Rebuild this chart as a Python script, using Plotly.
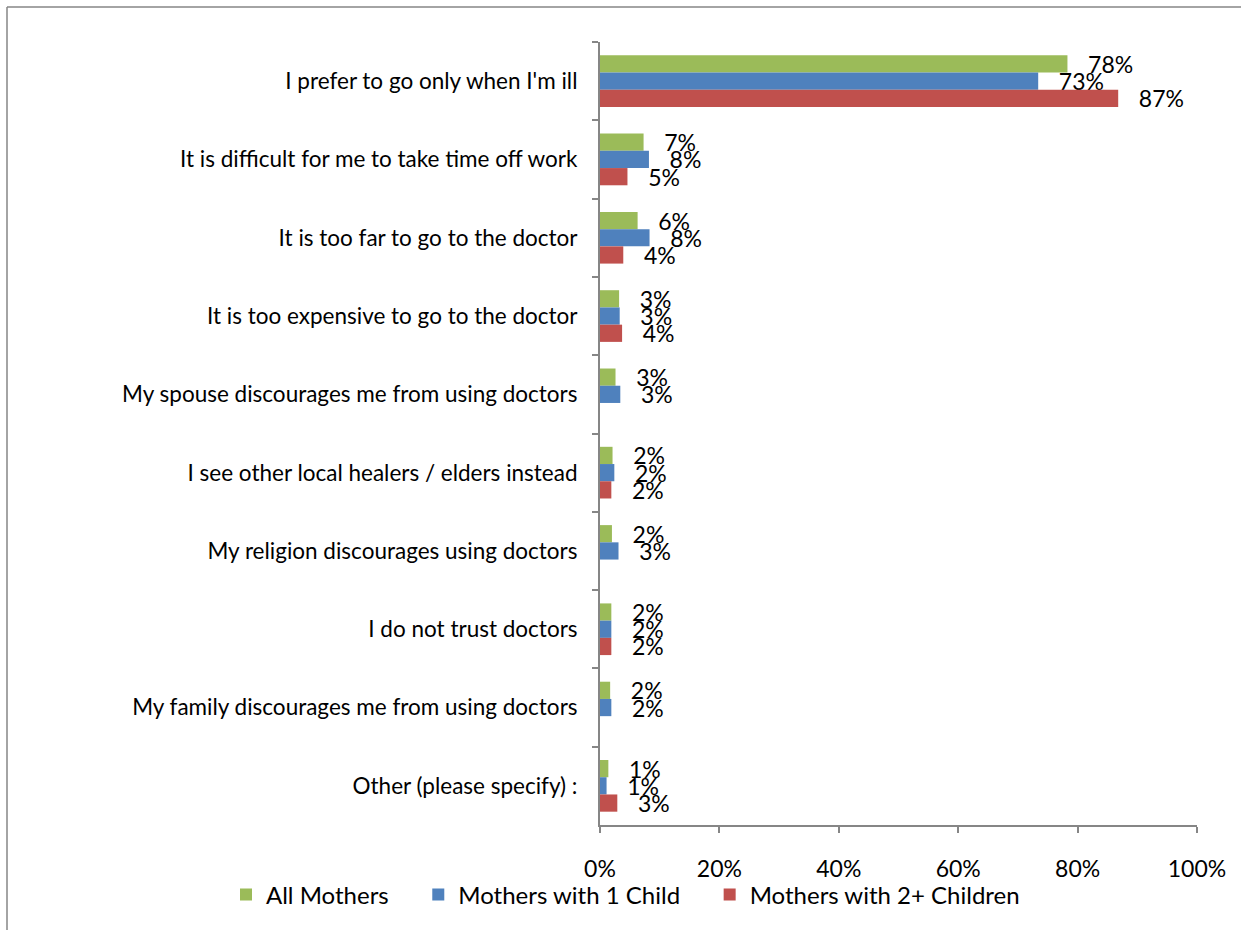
import plotly.graph_objects as go

categories = [
    "I prefer to go only when I'm ill",
    "It is difficult for me to take time off work",
    "It is too far to go to the doctor",
    "It is too expensive to go to the doctor",
    "My spouse discourages me from using doctors",
    "I see other local healers / elders instead",
    "My religion discourages using doctors",
    "I do not trust doctors",
    "My family discourages me from using doctors",
    "Other (please specify) :",
]
all_mothers = [78.3, 7.3, 6.3, 3.2, 2.6, 2.1, 2.0, 1.9, 1.7, 1.4]
one_child = [73.4, 8.2, 8.3, 3.3, 3.4, 2.4, 3.1, 1.9, 1.9, 1.1]
two_plus = [86.8, 4.6, 3.9, 3.7, None, 1.9, None, 1.9, None, 2.9]
xtick_vals = [0, 20, 40, 60, 80, 100]
xtick_text = ["0%", "20%", "40%", "60%", "80%", "100%"]

series = [
    ("All Mothers", all_mothers, "#9BBB59"),
    ("Mothers with 1 Child", one_child, "#4F81BD"),
    ("Mothers with 2+ Children", two_plus, "#C0504D"),
]

FONT = "Lato, Liberation Sans, sans-serif"
FS = 23
PAD = "\u00a0\u00a0\u00a0"
LGAP = "\u00a0" * 4

fig = go.Figure()
for name, vals, col in series:
    fig.add_trace(go.Bar(
        y=categories, x=vals, name=name + LGAP, orientation="h",
        marker=dict(color=col, line=dict(width=0)),
        text=[None if v is None else f"{PAD}{v:.0f}%" for v in vals],
        textposition="outside", cliponaxis=False,
        textfont=dict(family=FONT, size=FS, color="black"),
    ))

W, H = 1241, 930
L, R, T, B = 600, 44, 42, 105
pw, ph = W - L - R, H - T - B

def px(x):
    return (x - L) / pw

def py(y):
    return (H - B - y) / ph

fig.update_layout(
    width=W, height=H,
    margin=dict(l=L, r=R, t=T, b=B),
    paper_bgcolor="white", plot_bgcolor="white",
    barmode="group", bargap=0.34, bargroupgap=0,
    uniformtext=dict(minsize=FS, mode="show"),
    font=dict(family=FONT, size=FS, color="black"),
    showlegend=True,
    legend=dict(orientation="h", x=px(226), xanchor="left", y=py(895), yanchor="middle",
                bgcolor="rgba(0,0,0,0)",
                font=dict(family=FONT, size=24), traceorder="normal", itemwidth=30),
    xaxis=dict(range=[0, 100], tickvals=xtick_vals, ticktext=xtick_text,
               showgrid=False, zeroline=False, showline=True, linecolor="#868686", linewidth=2,
               ticks="outside", ticklen=6, tickcolor="#868686", tickwidth=2,
               ticklabelstandoff=16, tickfont=dict(size=FS)),
    yaxis=dict(autorange="reversed", showgrid=False, showline=True, linecolor="#868686",
               linewidth=2, ticks="outside", ticklen=6, tickcolor="#868686", tickwidth=2,
               tickson="boundaries", ticklabelstandoff=16, tickfont=dict(size=22.5)),
    shapes=[
        dict(type="line", xref="paper", yref="paper",
             x0=px(7), x1=px(1245), y0=py(7), y1=py(7),
             line=dict(color="#868686", width=1.5)),
        dict(type="line", xref="paper", yref="paper",
             x0=px(7), x1=px(7), y0=py(7), y1=py(935),
             line=dict(color="#868686", width=1.5)),
    ],
)

fig.write_html("out.html")
